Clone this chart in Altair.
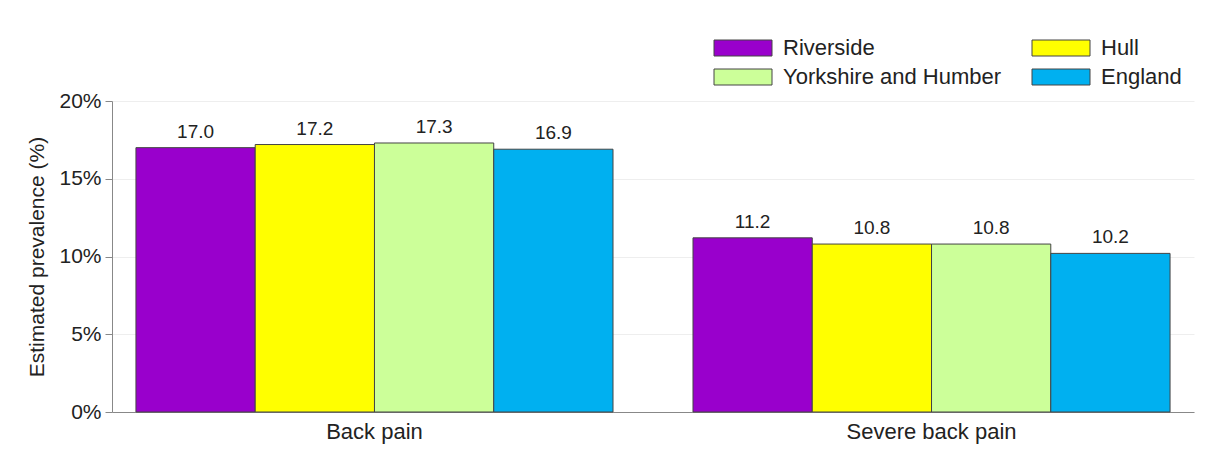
import altair as alt
import pandas as pd

categories = ["Back pain", "Severe back pain"]
areas = ["Riverside", "Hull", "Yorkshire and Humber", "England"]
colors = ["#9900CC", "#FFFF00", "#CCFF99", "#00B0F0"]
back_pain = [17.0, 17.2, 17.3, 16.9]
severe_back_pain = [11.2, 10.8, 10.8, 10.2]

rows = []
for cat, vals in zip(categories, [back_pain, severe_back_pain]):
    for a, v in zip(areas, vals):
        rows.append({"category": cat, "area": a, "value": v})
df = pd.DataFrame(rows)
df["frac"] = df["value"] / 100.0

font = "Liberation Sans"
xscale = alt.Scale(paddingInner=0.1436, paddingOuter=0.043)
yscale = alt.Scale(domain=[0, 0.2], nice=False)

x_enc = alt.X("category:N", sort=categories, title=None, scale=xscale,
              axis=alt.Axis(labelAngle=0, labelFontSize=22, labelColor="#222",
                            labelPadding=9, ticks=False, domainColor="#888",
                            labelFont=font))
xoff = alt.XOffset("area:N", sort=areas, scale=alt.Scale(paddingInner=0, paddingOuter=0))
y_enc = alt.Y("frac:Q", title="Estimated prevalence (%)", scale=yscale,
              axis=alt.Axis(format=".0%", values=[0, 0.05, 0.1, 0.15, 0.2],
                            labelFontSize=21, labelColor="#222", labelFont=font,
                            titleFontSize=21, titleFont=font, titleColor="#222",
                            titleFontWeight="normal", titlePadding=11,
                            tickSize=7, tickColor="#888", domainColor="#888",
                            gridColor="#eeeeee", labelPadding=4))

bars = alt.Chart(df).mark_bar(stroke="#444", strokeWidth=1).encode(
    x=x_enc, xOffset=xoff, y=y_enc,
    color=alt.Color("area:N", sort=areas,
                    scale=alt.Scale(domain=areas, range=colors),
                    legend=alt.Legend(title=None, orient="none", legendX=620, legendY=-64,
                                      direction="horizontal",
                                      columns=2, columnPadding=28, rowPadding=7,
                                      symbolType="M-3.625,-1L3.625,-1L3.625,1L-3.625,1Z",
                                      symbolSize=256, symbolStrokeColor="#444",
                                      symbolStrokeWidth=1, symbolOpacity=1,
                                      labelFontSize=22, labelFont=font, labelColor="#222",
                                      labelOffset=29, labelLimit=400))
)

labels = alt.Chart(df).mark_text(dy=-16, fontSize=19, font=font, color="#222").encode(
    x=alt.X("category:N", sort=categories, scale=xscale),
    xOffset=xoff,
    y=alt.Y("frac:Q", scale=yscale),
    text=alt.Text("value:Q", format=".1f"),
)

chart = alt.layer(bars, labels).properties(
    width=1082, height=311,
    autosize=alt.AutoSizeParams(type="none"),
    padding={"left": 104, "top": 93, "right": 3, "bottom": 36},
).configure_view(stroke=None).configure_axisY(grid=True).configure_axisX(grid=False)

chart.save("out.html", embed_options={"renderer": "svg", "actions": False})
